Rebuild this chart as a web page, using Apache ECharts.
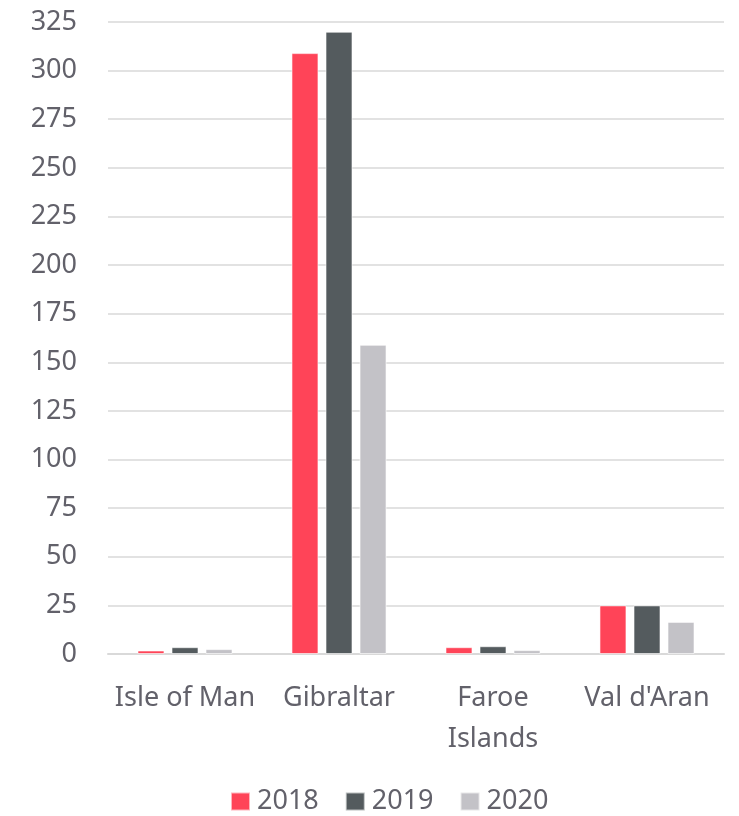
<!DOCTYPE html>
<html>
<head>
<meta charset="utf-8">
<script src="https://cdn.jsdelivr.net/npm/echarts@6/dist/echarts.min.js"></script>
<style>
  html, body { margin: 0; padding: 0; background: #fff; }
</style>
</head>
<body>
<div id="main" style="width: 739px; height: 816px;"></div>
<script>
  // categories and series
  const categories = ['Isle of Man', 'Gibraltar', 'Faroe\nIslands', "Val d'Aran"];
  const seriesNames = ['2018', '2019', '2020'];
  const values2018 = [1.8, 309, 3.5, 25];
  const values2019 = [3.5, 320, 4, 25];
  const values2020 = [2.5, 159, 2, 16.5];
  const colors = ['#ff4458', '#545b5e', '#c3c2c7'];

  const chart = echarts.init(document.getElementById('main'));
  const font = 'Source Sans Pro, Noto Sans, sans-serif';

  const mk = (name, data, i) => ({
    name: name,
    type: 'bar',
    data: data,
    barWidth: 27,
    barGap: '26%',
    itemStyle: { color: colors[i], borderColor: 'rgba(255,255,255,0.6)', borderWidth: 1 }
  });

  chart.setOption({
    animation: false,
    color: colors,
    textStyle: { fontFamily: font },
    grid: { left: 108, right: 15, top: 22, bottom: 162, containLabel: false },
    legend: {
      bottom: -4,
      left: 225,
      itemWidth: 19,
      itemHeight: 18,
      itemGap: 26,
      icon: 'rect',
      textStyle: { color: '#62616a', fontSize: 27, fontFamily: font, padding: [0, 0, 0, 2] },
      data: seriesNames
    },
    xAxis: {
      type: 'category',
      data: categories,
      axisLine: { lineStyle: { color: '#d9d9d9', width: 2 } },
      axisTick: { show: false },
      axisLabel: { color: '#62616a', fontSize: 27, lineHeight: 41, margin: 24, interval: 0 }
    },
    yAxis: {
      type: 'value',
      min: 0,
      max: 325,
      interval: 25,
      axisLine: { show: false },
      axisTick: { show: false },
      splitLine: { lineStyle: { color: '#d9d9d9', width: 1.5 } },
      axisLabel: { color: '#62616a', fontSize: 27, margin: 31 }
    },
    series: [
      mk(seriesNames[0], values2018, 0),
      mk(seriesNames[1], values2019, 1),
      mk(seriesNames[2], values2020, 2)
    ]
  });
</script>
</body>
</html>
